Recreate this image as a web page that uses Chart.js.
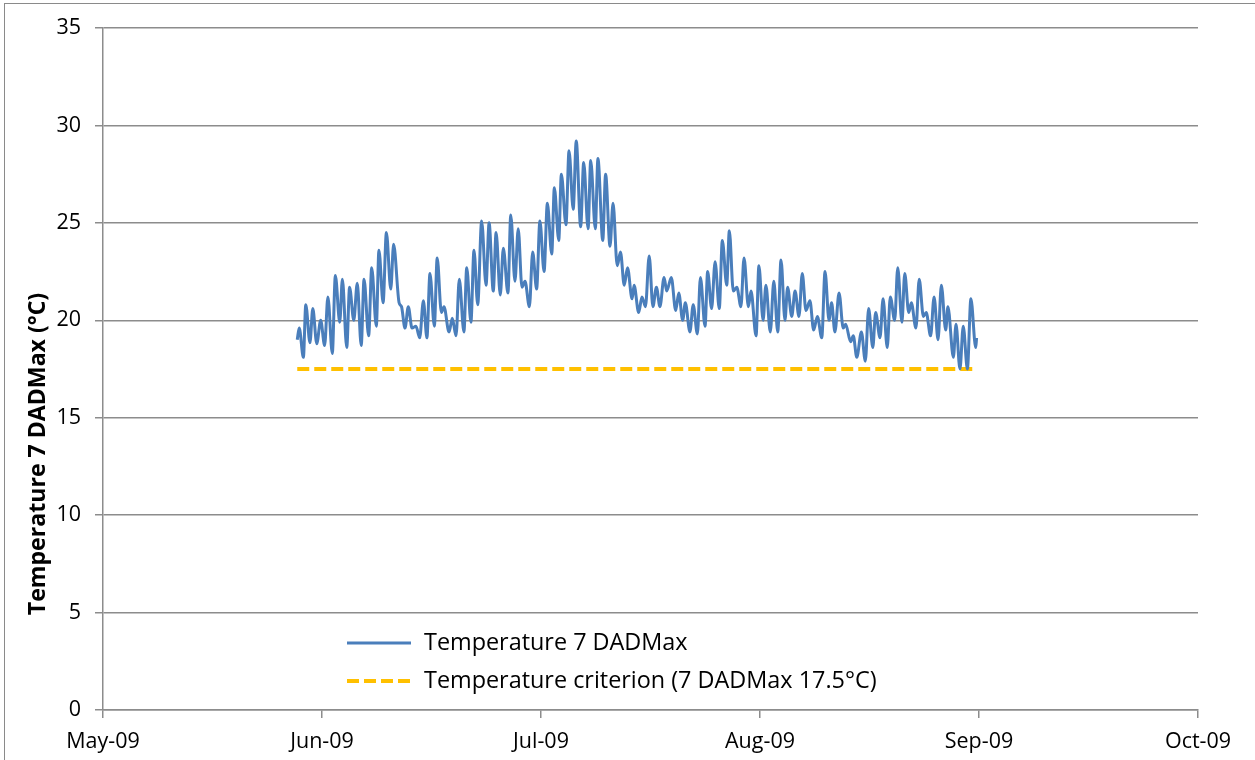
<!DOCTYPE html>
<html>
<head>
<meta charset="utf-8">
<script src="https://cdn.jsdelivr.net/npm/chart.js@4.4.1/dist/chart.umd.min.js"></script>
<style>
  body { margin: 0; background: #fff; }
  #wrap { position: relative; width: 1255px; height: 760px; overflow: hidden; }
  #frame { position: absolute; left: 4px; top: 3px; width: 1400px; height: 900px; border-left: 1px solid #8a8a8a; border-top: 1px solid #8a8a8a; pointer-events: none; }
</style>
</head>
<body>
<div id="wrap">
  <canvas id="chart1" width="1255" height="760"></canvas>
  <div id="frame"></div>
</div>
<script>
// x axis: months counted from 1 May 2009 (0 = May-09 ... 5 = Oct-09)
const monthLabels = ['May-09', 'Jun-09', 'Jul-09', 'Aug-09', 'Sep-09', 'Oct-09'];

// time of each reading (months since 1 May 2009) and 7 DADMax temperature (°C)
const tMonths = [
  0.887, 0.896, 0.915, 0.926, 0.945, 0.958, 0.976, 0.994, 1.012, 1.027,
  1.047, 1.061, 1.081, 1.093, 1.113, 1.126, 1.145, 1.161, 1.179, 1.192,
  1.213, 1.227, 1.248, 1.260, 1.279, 1.294, 1.314, 1.327, 1.352, 1.363,
  1.379, 1.394, 1.411, 1.429, 1.446, 1.463, 1.479, 1.493, 1.513, 1.526,
  1.545, 1.557, 1.580, 1.595, 1.612, 1.627, 1.648, 1.661, 1.680, 1.694,
  1.711, 1.729, 1.749, 1.763, 1.782, 1.795, 1.814, 1.828, 1.849, 1.862,
  1.881, 1.896, 1.913, 1.927, 1.947, 1.962, 1.980, 1.995, 2.014, 2.029,
  2.049, 2.061, 2.081, 2.093, 2.114, 2.128, 2.147, 2.161, 2.181, 2.195,
  2.215, 2.227, 2.248, 2.260, 2.282, 2.295, 2.315, 2.329, 2.348, 2.363,
  2.380, 2.395, 2.416, 2.425, 2.446, 2.461, 2.477, 2.494, 2.511, 2.527,
  2.543, 2.562, 2.574, 2.595, 2.615, 2.629, 2.647, 2.659, 2.680, 2.695,
  2.714, 2.728, 2.749, 2.761, 2.779, 2.795, 2.814, 2.828, 2.848, 2.860,
  2.878, 2.894, 2.913, 2.927, 2.947, 2.959, 2.982, 2.995, 3.014, 3.027,
  3.047, 3.063, 3.081, 3.096, 3.114, 3.126, 3.145, 3.160, 3.178, 3.193,
  3.210, 3.228, 3.245, 3.262, 3.282, 3.297, 3.315, 3.327, 3.342, 3.361,
  3.380, 3.391, 3.414, 3.426, 3.442, 3.463, 3.481, 3.496, 3.515, 3.528,
  3.548, 3.562, 3.581, 3.595, 3.615, 3.629, 3.648, 3.661, 3.679, 3.691,
  3.712, 3.727, 3.746, 3.759, 3.779, 3.795, 3.813, 3.828, 3.848, 3.858,
  3.883, 3.895, 3.913, 3.928, 3.947, 3.963, 3.985, 3.989
];
const temp7dadm = [
  19.0, 19.6, 18.1, 20.8, 18.85, 20.6, 18.8, 20.0, 18.7, 21.2,
  18.3, 22.3, 19.9, 22.1, 18.6, 21.7, 20.0, 21.9, 18.7, 22.1,
  19.2, 22.7, 19.7, 23.6, 20.9, 24.5, 21.6, 23.9, 20.9, 20.7,
  19.6, 20.7, 19.6, 19.7, 19.1, 21.0, 19.1, 22.4, 19.7, 23.2,
  20.4, 20.7, 19.4, 20.1, 19.2, 22.1, 19.4, 22.7, 19.9, 23.6,
  20.8, 25.1, 21.8, 25.0, 21.5, 24.5, 21.3, 23.7, 21.4, 25.4,
  22.0, 24.7, 21.7, 22.0, 20.7, 23.5, 21.6, 25.1, 22.5, 26.0,
  23.4, 26.8, 24.1, 27.5, 24.9, 28.7, 25.7, 29.2, 24.8, 28.1,
  24.7, 28.2, 24.7, 28.3, 24.1, 27.5, 23.8, 26.0, 22.8, 23.5,
  21.8, 22.7, 21.1, 21.8, 20.4, 21.2, 20.7, 23.3, 20.7, 21.7,
  20.7, 22.2, 21.5, 22.2, 20.5, 21.4, 20.0, 20.9, 19.4, 20.8,
  19.3, 22.2, 19.7, 22.5, 20.6, 23.0, 20.6, 24.1, 21.8, 24.6,
  21.5, 21.7, 20.7, 23.2, 20.7, 21.5, 19.2, 22.8, 20.0, 21.8,
  19.4, 22.0, 19.4, 23.1, 20.0, 21.7, 20.2, 21.5, 20.2, 22.4,
  20.5, 21.0, 19.5, 20.2, 19.1, 22.5, 20.0, 20.9, 19.4, 21.4,
  19.6, 19.8, 18.9, 19.2, 18.1, 19.4, 17.9, 20.6, 18.6, 20.4,
  19.1, 21.1, 18.6, 21.2, 20.0, 22.7, 19.9, 22.4, 20.4, 20.9,
  19.6, 22.1, 20.2, 20.4, 19.2, 21.2, 19.0, 21.8, 19.5, 20.7,
  18.1, 19.8, 17.5, 19.7, 17.5, 21.1, 18.6, 19.1
];
const criterionValue = 17.5;
const criterionSpan = [0.887, 3.992];

const seriesNames = ['Temperature 7 DADMax', 'Temperature criterion (7 DADMax 17.5°C)'];
const yTitle = 'Temperature 7 DADMax (°C)';

const blue = '#4a7ebb';
const gold = '#ffc000';
const gridGrey = '#8c8c8c';
const fontFam = "'Open Sans', 'Liberation Sans', sans-serif";

var tempPoints = tMonths.map(function (t, i) { return { x: t, y: temp7dadm[i] }; });
var critPoints = criterionSpan.map(function (t) { return { x: t, y: criterionValue }; });

// y title and legend drawn in Excel-like positions
var extrasPlugin = {
  id: 'extras',
  afterDraw: function (chart) {
    var c = chart.ctx;
    c.save();
    // axis title, sized to the reference length
    c.font = 'bold 20px ' + fontFam;
    var w = c.measureText(yTitle).width;
    var size = 20 * 322 / w;
    c.font = 'bold ' + size.toFixed(1) + 'px ' + fontFam;
    c.translate(38, 454);
    c.rotate(-Math.PI / 2);
    c.fillStyle = '#000';
    c.textAlign = 'center';
    c.textBaseline = 'middle';
    c.fillText(yTitle, 0, 0);
    c.restore();

    // legend
    c.save();
    c.font = '20px ' + fontFam;
    var lw = c.measureText(seriesNames[1]).width;
    var lsize = 20 * 453 / lw;
    c.font = lsize.toFixed(1) + 'px ' + fontFam;
    c.fillStyle = '#000';
    c.textBaseline = 'middle';
    var rows = [643, 681];
    c.lineWidth = 3;
    c.strokeStyle = blue;
    c.beginPath(); c.moveTo(347, rows[0]); c.lineTo(411, rows[0]); c.stroke();
    c.lineWidth = 4;
    c.strokeStyle = gold;
    c.setLineDash([12, 5]);
    c.beginPath(); c.moveTo(347, rows[1]); c.lineTo(411, rows[1]); c.stroke();
    c.setLineDash([]);
    c.fillText(seriesNames[0], 424, rows[0]);
    c.fillText(seriesNames[1], 424, rows[1]);
    c.restore();
  }
};

var ctx = document.getElementById('chart1').getContext('2d');
new Chart(ctx, {
  type: 'line',
  data: {
    datasets: [{
      label: seriesNames[0],
      data: tempPoints,
      borderColor: blue,
      borderWidth: 3,
      pointRadius: 0,
      cubicInterpolationMode: 'monotone',
      fill: false,
      order: 1
    }, {
      label: seriesNames[1],
      data: critPoints,
      borderColor: gold,
      borderWidth: 4,
      borderDash: [12, 5],
      pointRadius: 0,
      fill: false,
      order: 2
    }]
  },
  options: {
    responsive: false,
    animation: false,
    layout: { padding: { left: 0, right: 57, top: 28, bottom: 0 } },
    plugins: {
      legend: { display: false },
      tooltip: { enabled: false }
    },
    scales: {
      x: {
        type: 'linear',
        min: 0,
        max: 5,
        afterFit: function (s) { s.height = 50; },
        afterBuildTicks: function (s) {
          s.ticks = monthLabels.map(function (m, i) { return { value: i }; });
        },
        ticks: {
          autoSkip: false,
          maxRotation: 0,
          padding: 11,
          color: '#000',
          font: { family: fontFam, size: 21.5 },
          callback: function (v) { return monthLabels[v]; }
        },
        grid: { drawOnChartArea: false, drawTicks: true, tickLength: 8, color: gridGrey, lineWidth: 1.5 },
        border: { display: true, color: gridGrey, width: 1.5 }
      },
      y: {
        min: 0,
        max: 35,
        afterFit: function (s) { s.width = 103; },
        ticks: {
          stepSize: 5,
          padding: 14,
          color: '#000',
          font: { family: fontFam, size: 21.5 }
        },
        grid: { drawTicks: true, tickLength: 8, color: gridGrey, lineWidth: 1.5 },
        border: { display: true, color: gridGrey, width: 1.5 }
      }
    }
  },
  plugins: [extrasPlugin]
});
</script>
</body>
</html>
